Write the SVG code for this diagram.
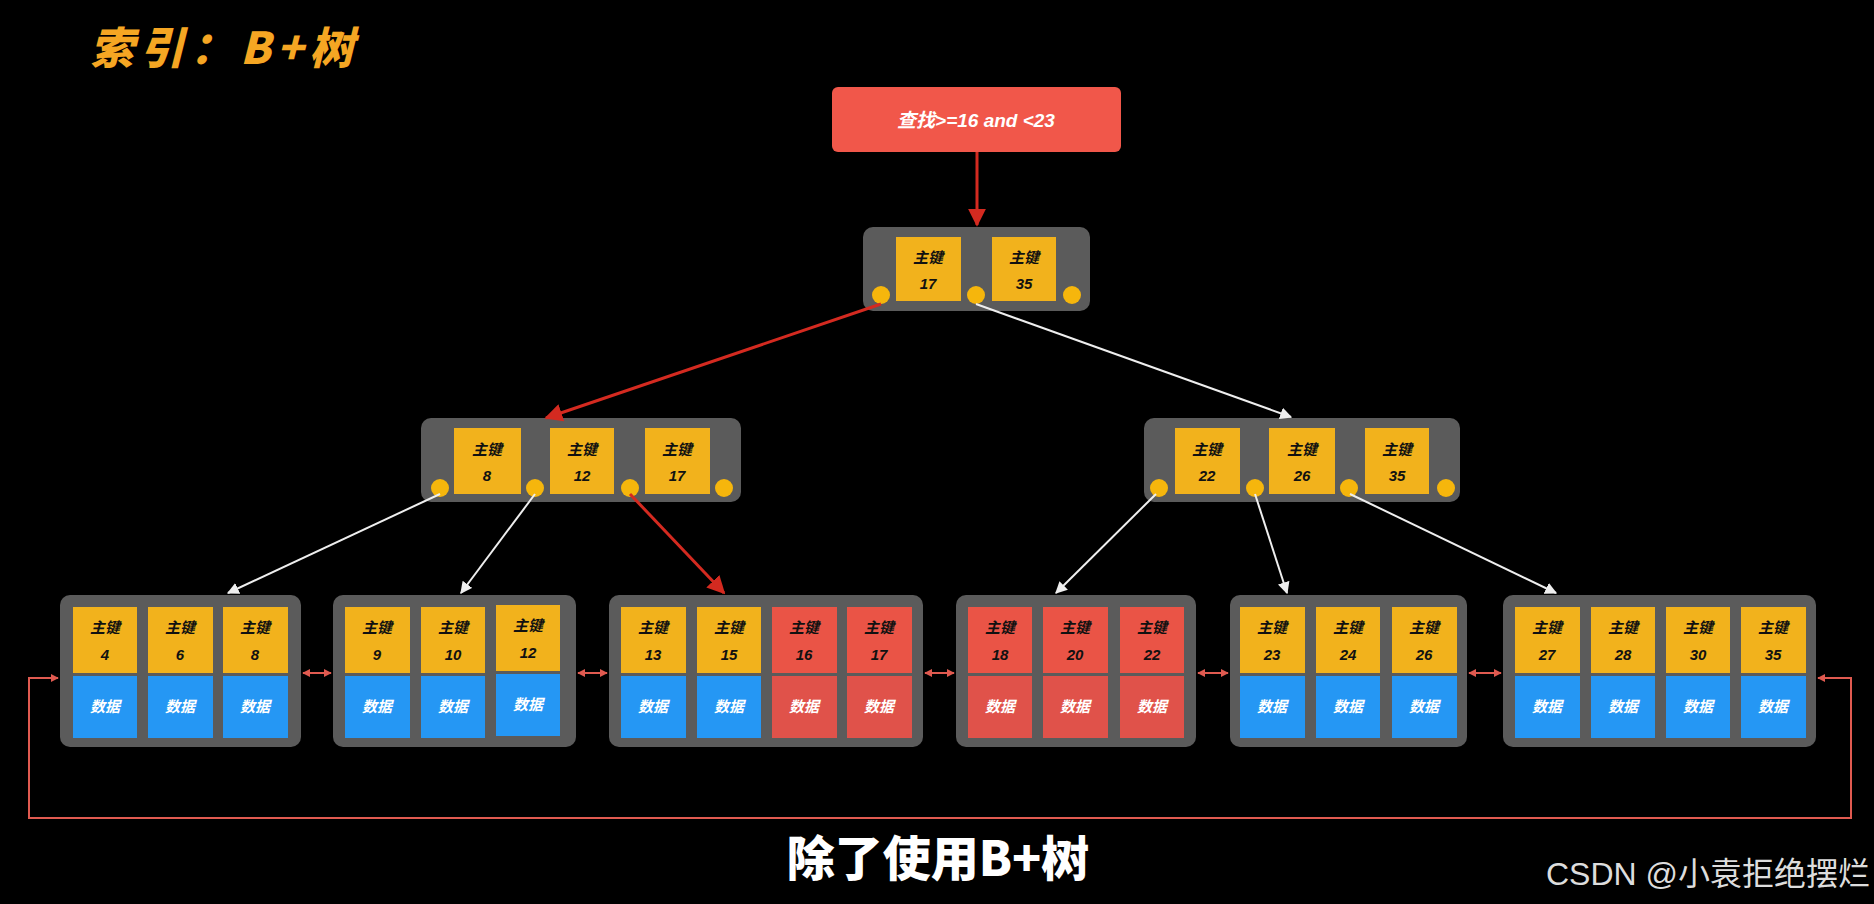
<svg xmlns="http://www.w3.org/2000/svg" width="1874" height="904" viewBox="0 0 1874 904">
<style>
.node{fill:#5b5b5b}
.k{fill:#f2b21c}
.kr{fill:#ea5446}
.d{fill:#2597f4}
.dr{fill:#e0524a}
.c{fill:#f6b60c}
.kt{font-family:"Liberation Sans","Noto Sans CJK SC",sans-serif;font-weight:bold;font-style:italic;font-size:15px;fill:#111;text-anchor:middle}
.dt{font-family:"Liberation Sans","Noto Sans CJK SC",sans-serif;font-weight:bold;font-style:italic;font-size:15px;fill:#fff;text-anchor:middle}
.w{stroke:#eee;stroke-width:2;fill:none;marker-end:url(#aw)}
.r{stroke:#d42a20;stroke-width:3;fill:none;marker-end:url(#ar)}
.l{stroke:#e05a50;stroke-width:2;fill:none}
</style>
<defs>
<marker id="aw" viewBox="0 0 10 10" refX="9" refY="5" markerWidth="6" markerHeight="6" orient="auto"><path d="M0,0L10,5L0,10z" fill="#eee"/></marker>
<marker id="ar" viewBox="0 0 10 10" refX="9" refY="5" markerWidth="6" markerHeight="6" orient="auto"><path d="M0,0L10,5L0,10z" fill="#d42a20"/></marker>
<marker id="as" viewBox="0 0 10 10" refX="9" refY="5" markerWidth="4" markerHeight="4" orient="auto-start-reverse"><path d="M0,0L10,5L0,10z" fill="#e05a50"/></marker>
</defs>
<rect width="1874" height="904" fill="#000"/>
<text x="90" y="64" font-family="'Noto Sans CJK SC',sans-serif" font-weight="900" font-style="italic" font-size="44" letter-spacing="6" fill="#f5a623">索引：B+树</text>

<g id="query"><rect x="832" y="87" width="289" height="65" rx="6" fill="#f1574a"/>
<text x="976" y="127" font-family="'Liberation Sans','Noto Sans CJK SC',sans-serif" font-weight="bold" font-style="italic" font-size="19" fill="#fff" text-anchor="middle">查找&gt;=16 and &lt;23</text></g>

<g id="root"><rect class="node" x="863" y="227" width="227" height="84" rx="10"/>
<rect class="k" x="896" y="237" width="65" height="64"/><text class="kt" x="928" y="263">主键</text><text class="kt" x="928" y="289">17</text>
<rect class="k" x="992" y="237" width="64" height="64"/><text class="kt" x="1024" y="263">主键</text><text class="kt" x="1024" y="289">35</text>
<circle class="c" cx="881" cy="295" r="9"/><circle class="c" cx="976" cy="295" r="9"/><circle class="c" cx="1072" cy="295" r="9"/></g>

<g id="int-left"><rect class="node" x="421" y="418" width="320" height="84" rx="10"/>
<rect class="k" x="454" y="428" width="67" height="66"/><text class="kt" x="487" y="455">主键</text><text class="kt" x="487" y="481">8</text>
<rect class="k" x="550" y="428" width="64" height="66"/><text class="kt" x="582" y="455">主键</text><text class="kt" x="582" y="481">12</text>
<rect class="k" x="645" y="428" width="65" height="66"/><text class="kt" x="677" y="455">主键</text><text class="kt" x="677" y="481">17</text>
<circle class="c" cx="440" cy="488" r="9"/><circle class="c" cx="535" cy="488" r="9"/><circle class="c" cx="630" cy="488" r="9"/><circle class="c" cx="724" cy="488" r="9"/></g>

<g id="int-right"><rect class="node" x="1144" y="418" width="316" height="84" rx="10"/>
<rect class="k" x="1175" y="428" width="65" height="66"/><text class="kt" x="1207" y="455">主键</text><text class="kt" x="1207" y="481">22</text>
<rect class="k" x="1269" y="428" width="66" height="66"/><text class="kt" x="1302" y="455">主键</text><text class="kt" x="1302" y="481">26</text>
<rect class="k" x="1365" y="428" width="64" height="66"/><text class="kt" x="1397" y="455">主键</text><text class="kt" x="1397" y="481">35</text>
<circle class="c" cx="1159" cy="488" r="9"/><circle class="c" cx="1255" cy="488" r="9"/><circle class="c" cx="1349" cy="488" r="9"/><circle class="c" cx="1446" cy="488" r="9"/></g>

<g id="leaf1"><rect class="node" x="60" y="595" width="241" height="152" rx="10"/>
<rect class="k" x="73" y="607" width="64" height="66"/><text class="kt" x="105" y="633">主键</text><text class="kt" x="105" y="660">4</text><rect class="d" x="73" y="676" width="64" height="62"/><text class="dt" x="105" y="712">数据</text>
<rect class="k" x="148" y="607" width="65" height="66"/><text class="kt" x="180" y="633">主键</text><text class="kt" x="180" y="660">6</text><rect class="d" x="148" y="676" width="65" height="62"/><text class="dt" x="180" y="712">数据</text>
<rect class="k" x="223" y="607" width="65" height="66"/><text class="kt" x="255" y="633">主键</text><text class="kt" x="255" y="660">8</text><rect class="d" x="223" y="676" width="65" height="62"/><text class="dt" x="255" y="712">数据</text></g>

<g id="leaf2"><rect class="node" x="333" y="595" width="243" height="152" rx="10"/>
<rect class="k" x="345" y="607" width="65" height="66"/><text class="kt" x="377" y="633">主键</text><text class="kt" x="377" y="660">9</text><rect class="d" x="345" y="676" width="65" height="62"/><text class="dt" x="377" y="712">数据</text>
<rect class="k" x="421" y="607" width="64" height="66"/><text class="kt" x="453" y="633">主键</text><text class="kt" x="453" y="660">10</text><rect class="d" x="421" y="676" width="64" height="62"/><text class="dt" x="453" y="712">数据</text>
<rect class="k" x="496" y="605" width="64" height="66"/><text class="kt" x="528" y="631">主键</text><text class="kt" x="528" y="658">12</text><rect class="d" x="496" y="674" width="64" height="62"/><text class="dt" x="528" y="710">数据</text></g>

<g id="leaf3"><rect class="node" x="609" y="595" width="314" height="152" rx="10"/>
<rect class="k" x="621" y="607" width="65" height="66"/><text class="kt" x="653" y="633">主键</text><text class="kt" x="653" y="660">13</text><rect class="d" x="621" y="676" width="65" height="62"/><text class="dt" x="653" y="712">数据</text>
<rect class="k" x="697" y="607" width="64" height="66"/><text class="kt" x="729" y="633">主键</text><text class="kt" x="729" y="660">15</text><rect class="d" x="697" y="676" width="64" height="62"/><text class="dt" x="729" y="712">数据</text>
<rect class="kr" x="772" y="607" width="65" height="66"/><text class="kt" x="804" y="633">主键</text><text class="kt" x="804" y="660">16</text><rect class="dr" x="772" y="676" width="65" height="62"/><text class="dt" x="804" y="712">数据</text>
<rect class="kr" x="847" y="607" width="65" height="66"/><text class="kt" x="879" y="633">主键</text><text class="kt" x="879" y="660">17</text><rect class="dr" x="847" y="676" width="65" height="62"/><text class="dt" x="879" y="712">数据</text></g>

<g id="leaf4"><rect class="node" x="956" y="595" width="240" height="152" rx="10"/>
<rect class="kr" x="968" y="607" width="64" height="66"/><text class="kt" x="1000" y="633">主键</text><text class="kt" x="1000" y="660">18</text><rect class="dr" x="968" y="676" width="64" height="62"/><text class="dt" x="1000" y="712">数据</text>
<rect class="kr" x="1043" y="607" width="65" height="66"/><text class="kt" x="1075" y="633">主键</text><text class="kt" x="1075" y="660">20</text><rect class="dr" x="1043" y="676" width="65" height="62"/><text class="dt" x="1075" y="712">数据</text>
<rect class="kr" x="1120" y="607" width="64" height="66"/><text class="kt" x="1152" y="633">主键</text><text class="kt" x="1152" y="660">22</text><rect class="dr" x="1120" y="676" width="64" height="62"/><text class="dt" x="1152" y="712">数据</text></g>

<g id="leaf5"><rect class="node" x="1230" y="595" width="237" height="152" rx="10"/>
<rect class="k" x="1240" y="607" width="65" height="66"/><text class="kt" x="1272" y="633">主键</text><text class="kt" x="1272" y="660">23</text><rect class="d" x="1240" y="676" width="65" height="62"/><text class="dt" x="1272" y="712">数据</text>
<rect class="k" x="1316" y="607" width="64" height="66"/><text class="kt" x="1348" y="633">主键</text><text class="kt" x="1348" y="660">24</text><rect class="d" x="1316" y="676" width="64" height="62"/><text class="dt" x="1348" y="712">数据</text>
<rect class="k" x="1392" y="607" width="65" height="66"/><text class="kt" x="1424" y="633">主键</text><text class="kt" x="1424" y="660">26</text><rect class="d" x="1392" y="676" width="65" height="62"/><text class="dt" x="1424" y="712">数据</text></g>

<g id="leaf6"><rect class="node" x="1503" y="595" width="313" height="152" rx="10"/>
<rect class="k" x="1515" y="607" width="65" height="66"/><text class="kt" x="1547" y="633">主键</text><text class="kt" x="1547" y="660">27</text><rect class="d" x="1515" y="676" width="65" height="62"/><text class="dt" x="1547" y="712">数据</text>
<rect class="k" x="1591" y="607" width="64" height="66"/><text class="kt" x="1623" y="633">主键</text><text class="kt" x="1623" y="660">28</text><rect class="d" x="1591" y="676" width="64" height="62"/><text class="dt" x="1623" y="712">数据</text>
<rect class="k" x="1666" y="607" width="64" height="66"/><text class="kt" x="1698" y="633">主键</text><text class="kt" x="1698" y="660">30</text><rect class="d" x="1666" y="676" width="64" height="62"/><text class="dt" x="1698" y="712">数据</text>
<rect class="k" x="1741" y="607" width="65" height="66"/><text class="kt" x="1773" y="633">主键</text><text class="kt" x="1773" y="660">35</text><rect class="d" x="1741" y="676" width="65" height="62"/><text class="dt" x="1773" y="712">数据</text></g>

<g id="connectors">
<line class="r" x1="977" y1="152" x2="977" y2="225"/>
<line class="r" x1="881" y1="304" x2="546" y2="418"/>
<line class="w" x1="976" y1="304" x2="1291" y2="417"/>
<line class="w" x1="440" y1="494" x2="228" y2="593"/>
<line class="w" x1="535" y1="494" x2="461" y2="593"/>
<line class="r" x1="630" y1="494" x2="724" y2="593"/>
<line class="w" x1="1156" y1="494" x2="1056" y2="593"/>
<line class="w" x1="1255" y1="494" x2="1287" y2="593"/>
<line class="w" x1="1350" y1="494" x2="1556" y2="593"/>
<line class="l" x1="303" y1="673" x2="331" y2="673" marker-start="url(#as)" marker-end="url(#as)"/>
<line class="l" x1="578" y1="673" x2="607" y2="673" marker-start="url(#as)" marker-end="url(#as)"/>
<line class="l" x1="925" y1="673" x2="954" y2="673" marker-start="url(#as)" marker-end="url(#as)"/>
<line class="l" x1="1198" y1="673" x2="1228" y2="673" marker-start="url(#as)" marker-end="url(#as)"/>
<line class="l" x1="1469" y1="673" x2="1501" y2="673" marker-start="url(#as)" marker-end="url(#as)"/>
<polyline class="l" points="58,678 29,678 29,818 1851,818 1851,678 1818,678" marker-start="url(#as)" marker-end="url(#as)"/>
</g>

<text x="938" y="876" font-family="'Noto Sans CJK SC',sans-serif" font-weight="900" font-size="48" fill="#fff" text-anchor="middle">除了使用B+树</text>
<text x="1870" y="885" font-family="'Liberation Sans','Noto Sans CJK SC',sans-serif" font-size="32" fill="#ddd" text-anchor="end">CSDN @小袁拒绝摆烂</text>
</svg>
